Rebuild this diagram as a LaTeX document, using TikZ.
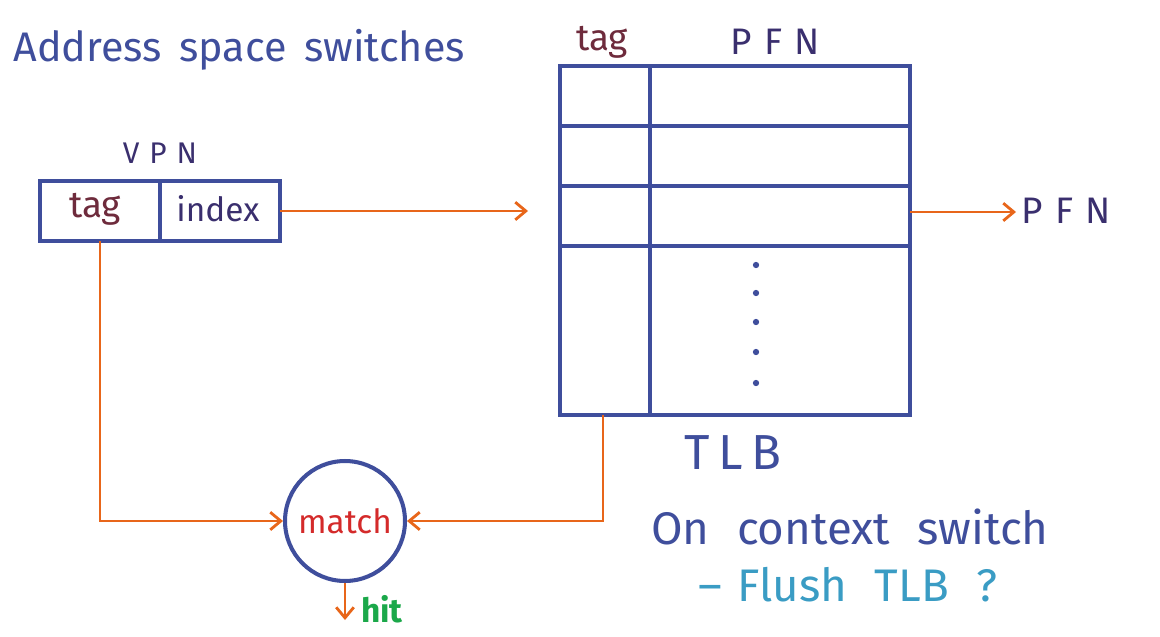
\documentclass[tikz,border=0pt]{standalone}
\usepackage{fontspec}
\setmainfont{Fira Sans}
\usetikzlibrary{arrows.meta}
\definecolor{boxblue}{HTML}{3F4E9C}
\definecolor{inkpurple}{HTML}{3A2F6E}
\definecolor{tagred}{HTML}{6E2B3C}
\definecolor{arrorange}{HTML}{E8661A}
\definecolor{matchred}{HTML}{D42A2A}
\definecolor{hitgreen}{HTML}{1BA84A}
\definecolor{flushblue}{HTML}{3A9CC4}
\tikzset{
  px/.style={x=0.02cm,y=-0.02cm},
  frame/.style={draw=boxblue,line width=2.3pt},
  conn/.style={draw=arrorange,line width=1.6pt},
  arr/.style={conn,-{Straight Barb[length=6pt,width=10pt,line width=1.6pt]}},
  lbl/.style={inner sep=0pt,anchor=center},
}
\begin{document}
\begin{tikzpicture}[px]
\useasboundingbox (0,0) rectangle (1160,636);
% title
\node[lbl,anchor=west,text=boxblue,font=\fontsize{23.5}{26}\selectfont] (title) at (13,50) {Address\, space\, switches};
% VPN box
\node[lbl,text=inkpurple,font=\fontsize{17}{19}\selectfont] (vpnl) at (160,153) {V\,\,P\,\,N};
\draw[frame] (40,181) rectangle (280,241);
\draw[frame] (160,181) -- (160,241);
\coordinate (vpnR) at (280,211);
\coordinate (vpnTag) at (100,241);
\node[lbl,text=tagred,font=\fontsize{21}{23}\selectfont] (vtag) at (95,209) {tag};
\node[lbl,text=inkpurple,font=\fontsize{19}{21}\selectfont] (vidx) at (218,209) {index};
% TLB table
\draw[frame] (560,66) rectangle (910,415);
\draw[frame] (560,126) -- (910,126);
\draw[frame] (560,186) -- (910,186);
\draw[frame] (560,246) -- (910,246);
\draw[frame] (650,66) -- (650,415);
\node[lbl,text=tagred,font=\fontsize{21}{23}\selectfont] (ttag) at (602,42) {tag};
\node[lbl,text=inkpurple,font=\fontsize{21}{23}\selectfont] (tpfn) at (775,42) {P\,\,F\,\,N};
\foreach \yy in {265,293,322,352,383}{\fill[boxblue] (756,\yy) circle (1.8pt);}
\coordinate (tlbIn) at (528,211);
\coordinate (tlbOut) at (910,212);
\coordinate (pfnIn) at (1016,212);
\coordinate (tlbTag) at (603,415);
\node[lbl,anchor=west,text=inkpurple,font=\fontsize{21}{23}\selectfont] (opfn) at (1021,211) {P\,\,F\,\,N};
\node[lbl,text=boxblue,font=\fontsize{28}{30}\selectfont] (tlbl) at (733,453) {T\,L\,B};
% match circle
\node[circle,draw=boxblue,line width=2.3pt,minimum size=2.4cm,inner sep=0pt,text=matchred,font=\fontsize{19}{21}\selectfont] (match) at (345,521) {match};
\coordinate (hitEnd) at (345,620);
\node[lbl,text=hitgreen,font=\bfseries\fontsize{19}{21}\selectfont] (hit) at (382,609) {hit};
% connectors
\draw[arr] (vpnR) -- (tlbIn);
\draw[arr] (tlbOut) -- (pfnIn);
\draw[arr] (vpnTag) |- (match.west);
\draw[arr] (tlbTag) |- (match.east);
\draw[arr] (match.south) -- (hitEnd);
% notes
\node[lbl,text=boxblue,font=\fontsize{26}{28}\selectfont] (note1) at (850,527) {On\,\, context\,\, switch};
\node[lbl,text=flushblue,font=\fontsize{26}{28}\selectfont] (note2) at (848,585) {--\,\,Flush\,\, TLB\,\, ?};
\end{tikzpicture}
\end{document}
